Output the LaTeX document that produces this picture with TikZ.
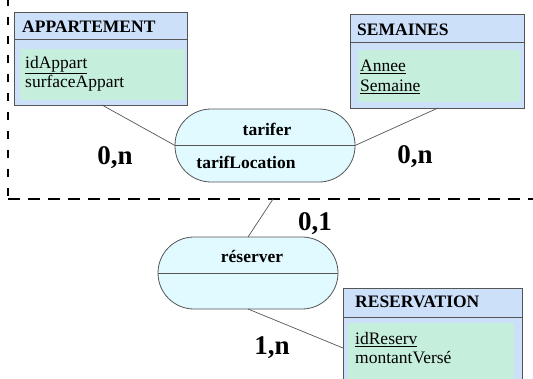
\documentclass[tikz,border=0pt]{standalone}
\usepackage{fontspec}
\setmainfont{Liberation Serif}
\usetikzlibrary{calc}
\definecolor{hdblue}{HTML}{CCE0FA}
\definecolor{attrgreen}{HTML}{C6EEDC}
\definecolor{relcyan}{HTML}{E0FAFF}
\definecolor{edgegray}{HTML}{555555}
\begin{document}
\begin{tikzpicture}[x=1pt,y=-1pt,
  entbox/.style={draw=edgegray, fill=hdblue, line width=0.8pt, anchor=north west, inner sep=0, outer sep=0},
  attrarea/.style={fill=attrgreen, anchor=north west, inner sep=0, outer sep=0},
  relbox/.style={draw=edgegray, fill=relcyan, rounded corners=36pt, line width=0.8pt, inner sep=0, outer sep=0},
  titletxt/.style={font=\fontsize{17.5}{20}\selectfont\bfseries, anchor=west, inner sep=0},
  attrtxt/.style={font=\fontsize{17.5}{20}\selectfont, anchor=west, inner sep=0},
  reltxt/.style={font=\fontsize{17.5}{20}\selectfont\bfseries, inner sep=0},
  cardtxt/.style={font=\fontsize{27}{30}\selectfont\bfseries, inner sep=0},
  link/.style={draw=edgegray, line width=0.7pt},
  aggr/.style={draw=black, line width=2.6pt, dash pattern=on 12pt off 8pt}]
\useasboundingbox (0,0) rectangle (533,378);
\clip (0,0) rectangle (533,378);

% dashed aggregation border
\coordinate (dcorner) at (8,199);
\coordinate (dtop) at (8,-2);
\coordinate (dright) at (540,199);
\draw[aggr, dash pattern=on 8pt off 11pt] (dtop) -- (dcorner);
\draw[aggr] (dcorner) -- (dright);

% APPARTEMENT
\node[entbox, minimum width=173, minimum height=93] (app) at (14,12) {};
\draw[edgegray, line width=0.8pt] (14,39.5) -- (187,39.5);
\node[attrarea, minimum width=165, minimum height=51] (appa) at (20,49) {};
\node[titletxt] (appt) at (22,27) {APPARTEMENT};
\node[attrtxt] (app1) at (25,65) {\underline{idAppart}};
\node[attrtxt] (app2) at (25,83) {surfaceAppart};

% SEMAINES
\node[entbox, minimum width=174, minimum height=94] (sem) at (350,14) {};
\draw[edgegray, line width=0.8pt] (350,42) -- (524,42);
\node[attrarea, minimum width=162, minimum height=52] (sema) at (358,50) {};
\node[titletxt] (semt) at (357,30) {SEMAINES};
\node[attrtxt] (sem1) at (360,67) {\underline{Annee}};
\node[attrtxt] (sem2) at (360,87) {\underline{Semaine}};

% RESERVATION
\node[entbox, minimum width=179, minimum height=100] (res) at (343,288) {};
\draw[edgegray, line width=0.8pt] (343,317) -- (522,317);
\node[attrarea, minimum width=166, minimum height=60] (resa) at (348,323) {};
\node[titletxt] (rest) at (355,302) {RESERVATION};
\node[attrtxt] (res1) at (355,340) {\underline{idReserv}};
\node[attrtxt] (res2) at (355,358) {montantVersé};

% tarifer
\node[relbox, minimum width=180, minimum height=73] (tar) at (265,145.5) {};
\draw[edgegray, line width=0.8pt] (tar.west) -- (tar.east);
\node[reltxt] (tart) at (267,129) {tarifer};
\node[reltxt] (tarl) at (246,162) {tarifLocation};

% réserver
\node[relbox, minimum width=180, minimum height=72] (rsv) at (248,273) {};
\draw[edgegray, line width=0.8pt] (rsv.west) -- (rsv.east);
\node[reltxt] (rsvt) at (252,257) {réserver};

% connectors
\coordinate (appb) at (102,105);
\coordinate (semb) at (438,108);
\coordinate (dlink) at (273,199);
\coordinate (resl) at (343,348);
\draw[link] (appb) -- (tar.west);
\draw[link] (semb) -- (tar.east);
\draw[link] (dlink) -- (rsv.north);
\draw[link] (rsv.south) -- (resl);

% cardinalities
\node[cardtxt] (c1) at (115,158) {0,n};
\node[cardtxt] (c2) at (415,157) {0,n};
\node[cardtxt] (c3) at (315,224) {0,1};
\node[cardtxt] (c4) at (272,348) {1,n};
\end{tikzpicture}
\end{document}
